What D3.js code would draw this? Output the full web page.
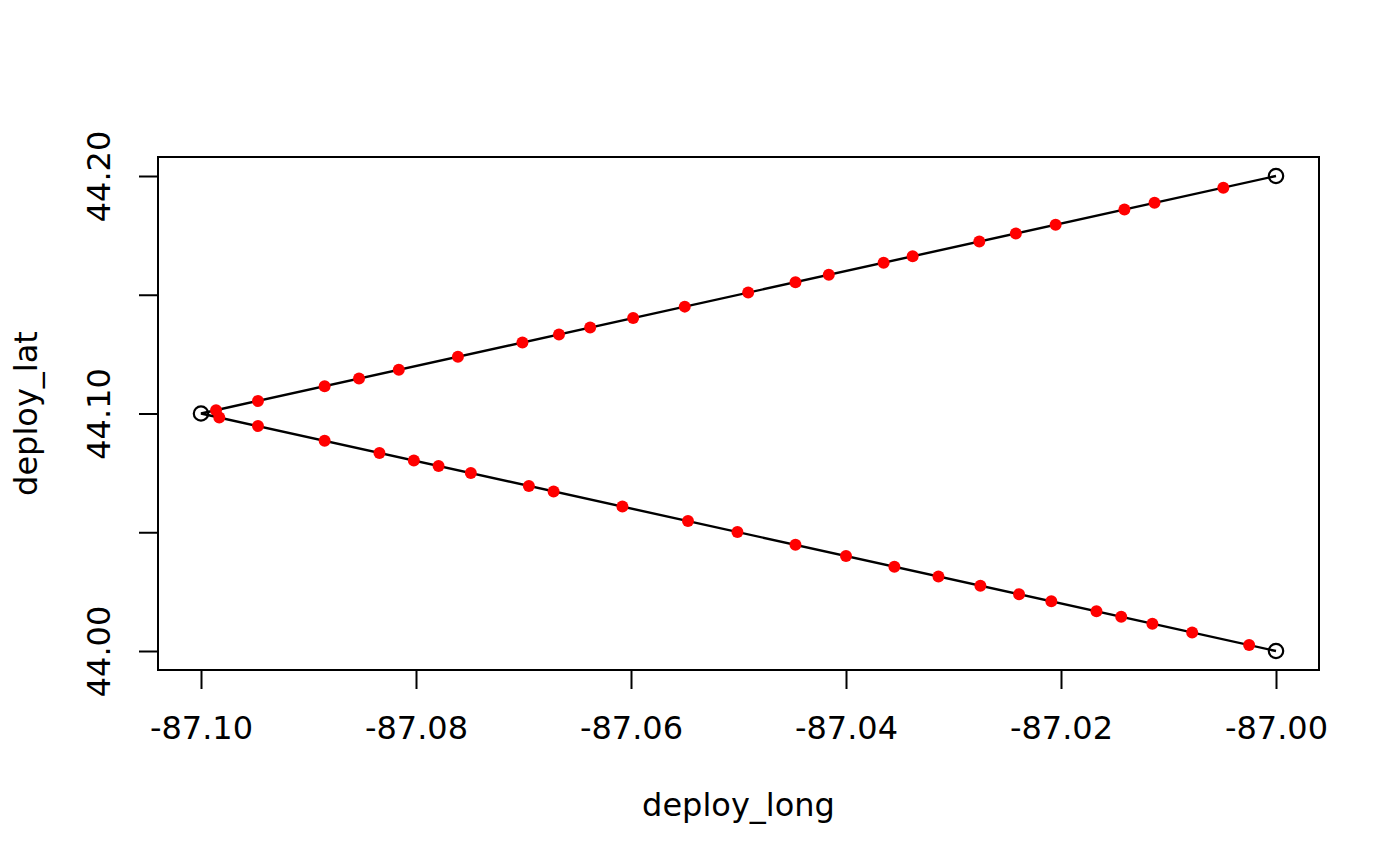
<!DOCTYPE html>
<html>
<head>
<meta charset="utf-8">
<script src="https://cdn.jsdelivr.net/npm/d3@7"></script>
<style>
  html, body { margin: 0; padding: 0; background: #ffffff; }
  svg { display: block; }
  text { font-family: "DejaVu Sans", sans-serif; fill: #000; }
</style>
</head>
<body>
<svg id="chart" width="1400" height="866"></svg>
<script>
// ---- data ----
const pathLong = [-87.00, -87.10, -87.00];
const pathLat  = [44.20, 44.10, 44.00];

const upperLong = [-87.0986, -87.0947, -87.0885, -87.0853, -87.0816, -87.0761, -87.0701, -87.0667,
                   -87.0638, -87.0598, -87.0550, -87.0491, -87.0447, -87.0416, -87.0365, -87.0338,
                   -87.0276, -87.0242, -87.0205, -87.0141, -87.0113, -87.0049];
const upperLat  = [44.1014, 44.1053, 44.1115, 44.1147, 44.1184, 44.1239, 44.1299, 44.1333,
                   44.1362, 44.1402, 44.1450, 44.1509, 44.1553, 44.1584, 44.1635, 44.1662,
                   44.1724, 44.1758, 44.1795, 44.1859, 44.1887, 44.1951];

const lowerLong = [-87.0983, -87.0947, -87.0885, -87.0834, -87.0802, -87.0779, -87.0749, -87.0695,
                   -87.0672, -87.0608, -87.0547, -87.0501, -87.0447, -87.0400, -87.0355, -87.0314,
                   -87.0275, -87.0239, -87.0209, -87.0167, -87.0144, -87.0115, -87.0078, -87.0025];
const lowerLat  = [44.0983, 44.0947, 44.0885, 44.0834, 44.0802, 44.0779, 44.0749, 44.0695,
                   44.0672, 44.0608, 44.0547, 44.0501, 44.0447, 44.0400, 44.0355, 44.0314,
                   44.0275, 44.0239, 44.0209, 44.0167, 44.0144, 44.0115, 44.0078, 44.0025];

const xTicks = [-87.10, -87.08, -87.06, -87.04, -87.02, -87.00];
const xTickLabels = ["-87.10", "-87.08", "-87.06", "-87.04", "-87.02", "-87.00"];
const yTicks = [44.00, 44.05, 44.10, 44.15, 44.20];
const yTickLabels = ["44.00", "", "44.10", "", "44.20"];

const xTitle = "deploy_long";
const yTitle = "deploy_lat";

// ---- layout ----
const boxL = 158, boxR = 1319, boxT = 157, boxB = 670;
const fontSize = 32;

const xExt = d3.extent(pathLong.concat(upperLong, lowerLong));
const yExt = d3.extent(pathLat.concat(upperLat, lowerLat));
const xPad = (xExt[1] - xExt[0]) * 0.04;
const yPad = (yExt[1] - yExt[0]) * 0.04;

const x = d3.scaleLinear().domain([xExt[0] - xPad, xExt[1] + xPad]).range([boxL, boxR]);
const y = d3.scaleLinear().domain([yExt[0] - yPad, yExt[1] + yPad]).range([boxB, boxT]);

const svg = d3.select("#chart");

// x axis
const xAxis = svg.append("g")
  .attr("transform", `translate(0,${boxB})`)
  .call(d3.axisBottom(x).tickValues(xTicks).tickSize(19)
        .tickFormat((d, i) => xTickLabels[i]));
xAxis.select(".domain").remove();
xAxis.selectAll(".tick line").attr("stroke", "#000").attr("stroke-width", 2);
xAxis.selectAll(".tick text")
  .attr("y", 69).attr("dy", null)
  .style("font-size", fontSize + "px")
  .style("font-family", "'DejaVu Sans', sans-serif")
  .attr("fill", "#000");

// y axis
const yAxis = svg.append("g")
  .attr("transform", `translate(${boxL},0)`)
  .call(d3.axisLeft(y).tickValues(yTicks).tickSize(19)
        .tickFormat((d, i) => yTickLabels[i]));
yAxis.select(".domain").remove();
yAxis.selectAll(".tick line").attr("stroke", "#000").attr("stroke-width", 2);
yAxis.selectAll(".tick text")
  .attr("x", 0).attr("y", 0).attr("dy", null)
  .attr("text-anchor", "middle")
  .attr("transform", "translate(-48,0) rotate(-90)")
  .style("font-size", fontSize + "px")
  .style("font-family", "'DejaVu Sans', sans-serif")
  .attr("fill", "#000");

// box
svg.append("rect")
  .attr("x", boxL).attr("y", boxT)
  .attr("width", boxR - boxL).attr("height", boxB - boxT)
  .attr("fill", "none").attr("stroke", "#000").attr("stroke-width", 2);

// black path
const pathData = pathLong.map((d, i) => [d, pathLat[i]]);
svg.append("path")
  .datum(pathData)
  .attr("fill", "none").attr("stroke", "#000").attr("stroke-width", 2.4)
  .attr("d", d3.line().x(d => x(d[0])).y(d => y(d[1])));

svg.append("g").selectAll("circle")
  .data(pathData).join("circle")
  .attr("cx", d => x(d[0])).attr("cy", d => y(d[1]))
  .attr("r", 7.2)
  .attr("fill", "none").attr("stroke", "#000").attr("stroke-width", 2.2);

// red points
const redPts = upperLong.map((d, i) => [d, upperLat[i]])
  .concat(lowerLong.map((d, i) => [d, lowerLat[i]]));
svg.append("g").selectAll("circle")
  .data(redPts).join("circle")
  .attr("cx", d => x(d[0])).attr("cy", d => y(d[1]))
  .attr("r", 6)
  .attr("fill", "#ff0000");

// titles
svg.append("text")
  .attr("x", (boxL + boxR) / 2).attr("y", 816)
  .attr("text-anchor", "middle")
  .style("font-size", fontSize + "px")
  .text(xTitle);

svg.append("text")
  .attr("transform", `translate(37,${(boxT + boxB) / 2}) rotate(-90)`)
  .attr("text-anchor", "middle")
  .style("font-size", fontSize + "px")
  .text(yTitle);
</script>
</body>
</html>
